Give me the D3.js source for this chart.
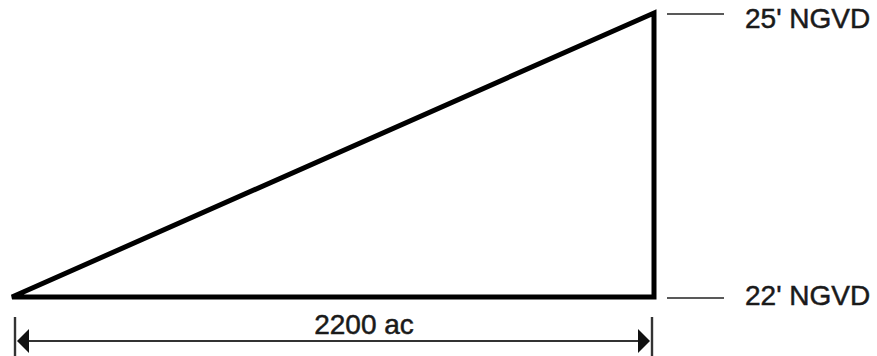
<!DOCTYPE html>
<html><head><meta charset="utf-8">
<script src="https://cdn.jsdelivr.net/npm/d3@7"></script>
<style>body{margin:0;background:#fff}svg{display:block}</style>
</head><body>
<script>
const elevations = [22, 25];
const elevationLabels = ["22' NGVD", "25' NGVD"];
const areaExtent = [0, 2200];
const areaLabel = "2200 ac";

const W = 877, H = 356;
const svg = d3.select("body").append("svg").attr("width", W).attr("height", H);
const x = d3.scaleLinear().domain(areaExtent).range([12, 654]);
const y = d3.scaleLinear().domain(d3.extent(elevations)).range([297, 13]);
const font = "Liberation Sans, Arial, sans-serif";

// triangle
const pts = [[areaExtent[0], elevations[0]], [areaExtent[1], elevations[1]], [areaExtent[1], elevations[0]]];
svg.append("path")
  .attr("d", d3.line().x(d => x(d[0])).y(d => y(d[1]))(pts) + "Z")
  .attr("fill", "none").attr("stroke", "#000").attr("stroke-width", 5)
  .attr("stroke-linejoin", "miter");

// level ticks and labels
const g = svg.selectAll("g.lvl").data(elevations).join("g").attr("class", "lvl");
g.append("line")
  .attr("x1", 667).attr("x2", 724)
  .attr("y1", d => y(d) + 1).attr("y2", d => y(d) + 1)
  .attr("stroke", "#222").attr("stroke-width", 1.6);
g.append("text")
  .attr("x", 745).attr("y", (d, i) => y(d) + (i === 1 ? 15 : 8))
  .attr("font-family", font)
  .attr("font-size", 28).attr("fill", "#1a1a1a")
  .attr("stroke", "#1a1a1a").attr("stroke-width", 0.5)
  .text((d, i) => elevationLabels[i]);

// dimension line
const dimY = 341;
svg.selectAll("line.ext").data(areaExtent).join("line").attr("class", "ext")
  .attr("x1", d => x(d) + (d === 0 ? 3 : -2)).attr("x2", d => x(d) + (d === 0 ? 3 : -2))
  .attr("y1", 317).attr("y2", 356)
  .attr("stroke", "#333").attr("stroke-width", 2.4);
svg.append("line")
  .attr("x1", x(areaExtent[0]) + 12).attr("x2", x(areaExtent[1]) - 12)
  .attr("y1", dimY).attr("y2", dimY)
  .attr("stroke", "#333").attr("stroke-width", 2);
svg.selectAll("path.arrow").data(areaExtent).join("path").attr("class", "arrow")
  .attr("d", d => {
    const tip = x(d) + (d === 0 ? 5 : -4);
    const base = tip + (d === 0 ? 12 : -12);
    return `M${tip},${dimY}L${base},${dimY - 12}L${base},${dimY + 12}Z`;
  })
  .attr("fill", "#111");
svg.append("text")
  .attr("x", 364).attr("y", 334).attr("text-anchor", "middle")
  .attr("font-family", font)
  .attr("font-size", 28).attr("fill", "#1a1a1a")
  .attr("stroke", "#1a1a1a").attr("stroke-width", 0.5)
  .text(areaLabel);
</script>
</body></html>
